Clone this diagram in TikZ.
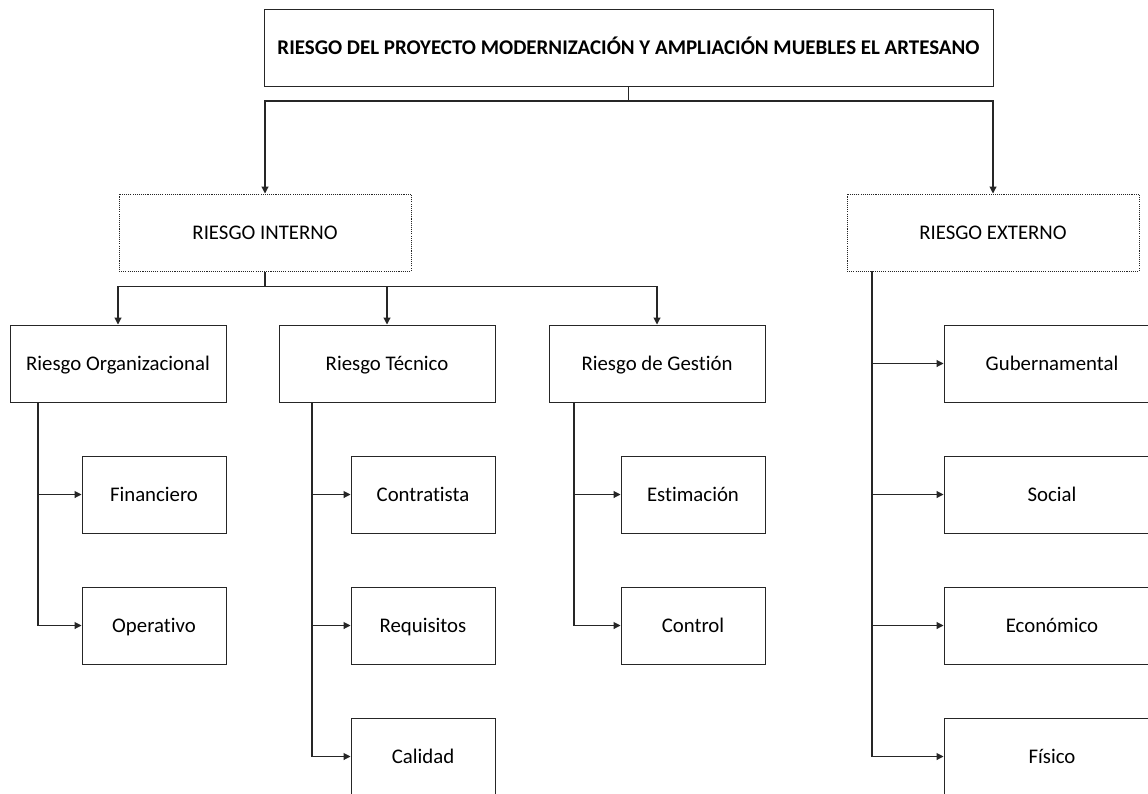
\documentclass[tikz,border=0pt]{standalone}
\usepackage{fontspec}
\setmainfont{Carlito}[Ligatures={NoCommon,NoContextual}]
\usetikzlibrary{arrows.meta}
\begin{document}
\begin{tikzpicture}[x=0.75pt,y=-0.75pt,
  every node/.style={font=\fontsize{15.6}{18}\selectfont},
  box/.style={draw=black!85,line width=0.75pt,rectangle,inner sep=0pt,minimum height=57.75pt,align=center,text height=11.2pt,text depth=0pt},
  wbig/.style={minimum width=219pt},
  wmid/.style={minimum width=162pt},
  wsmall/.style={minimum width=108pt},
  dotbox/.style={box,dash pattern=on 0.8pt off 0.8pt},
  conn/.style={draw=black!85,line width=0.8pt},
  arr/.style={conn,-{Triangle[length=5.2pt,width=5.2pt]}}
]
\useasboundingbox (0,0) rectangle (1148,793);
\clip (0,0) rectangle (1148,793);
\fill[white] (0,0) rectangle (1148,793);

\node[box,minimum width=546.75pt,font=\bfseries\fontsize{15.7}{18}\selectfont] (top) at (628.5,47.5) {RIESGO DEL PROYECTO MODERNIZACIÓN Y AMPLIACIÓN MUEBLES EL ARTESANO};

\node[dotbox,wbig] (int) at (265,232.5) {RIESGO INTERNO};
\node[dotbox,wbig] (ext) at (993,232.5) {RIESGO EXTERNO};

\node[box,wmid] (org) at (118,363.5) {Riesgo Organizacional};
\node[box,wmid] (tec) at (387,363.5) {Riesgo Técnico};
\node[box,wmid] (ges) at (657,363.5) {Riesgo de Gestión};

\node[box,wsmall] (fin) at (154,494.5) {Financiero};
\node[box,wsmall] (ope) at (154,625.5) {Operativo};
\node[box,wsmall] (con) at (423,494.5) {Contratista};
\node[box,wsmall] (req) at (423,625.5) {Requisitos};
\node[box,wsmall] (cal) at (423,756.5) {Calidad};
\node[box,wsmall] (est) at (693,494.5) {Estimación};
\node[box,wsmall] (ctl) at (693,625.5) {Control};

\node[box,wmid] (gub) at (1052,363.5) {Gubernamental};
\node[box,wmid] (soc) at (1052,494.5) {Social};
\node[box,wmid] (eco) at (1052,625.5) {Económico};
\node[box,wmid] (fis) at (1052,756.5) {Físico};

% level 1
\coordinate (j1) at (628.5,101);
\draw[conn] (top.south) -- (j1);
\draw[arr] (j1) -| (int.north);
\draw[arr] (j1) -| (ext.north);

% level 2
\coordinate (j2) at (265,286.5);
\draw[conn] (int.south) -- (j2);
\draw[arr] (j2) -| (org.north);
\draw[arr] (j2) -| (tec.north);
\draw[arr] (j2) -| (ges.north);

% Organizacional
\coordinate (orgS) at (38,402);
\draw[arr] (orgS) |- (fin.west);
\draw[arr] (orgS) |- (ope.west);

% Tecnico
\coordinate (tecS) at (312,402);
\draw[arr] (tecS) |- (con.west);
\draw[arr] (tecS) |- (req.west);
\draw[arr] (tecS) |- (cal.west);

% Gestion
\coordinate (gesS) at (574,402);
\draw[arr] (gesS) |- (est.west);
\draw[arr] (gesS) |- (ctl.west);

% Externo
\coordinate (extS) at (872,271);
\draw[arr] (extS) |- (gub.west);
\draw[arr] (extS) |- (soc.west);
\draw[arr] (extS) |- (eco.west);
\draw[arr] (extS) |- (fis.west);
\end{tikzpicture}
\end{document}
